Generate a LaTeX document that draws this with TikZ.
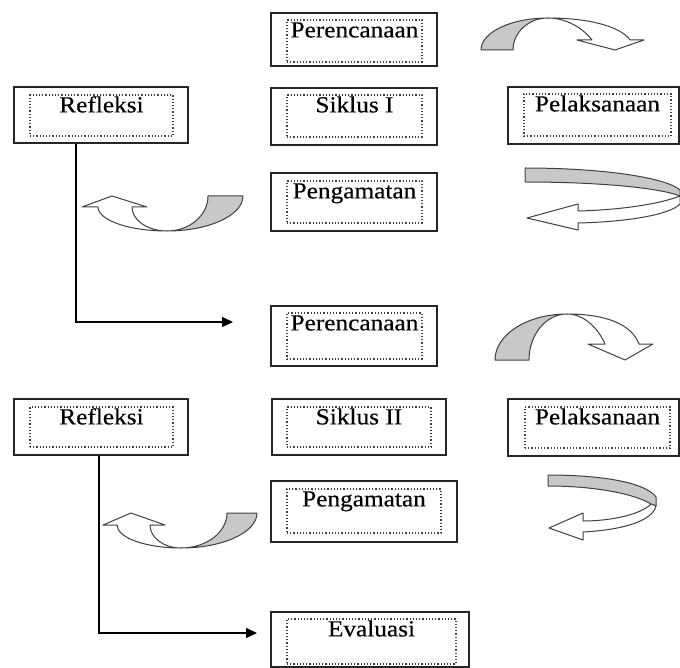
\documentclass[tikz,border=0pt]{standalone}
\usepackage{fontspec}
\setmainfont{Liberation Serif}[FakeStretch=1.1,FakeBold=0.4]
\usetikzlibrary{fit,arrows.meta}
\definecolor{bandgray}{RGB}{200,200,200}
\newcommand\cyclebox[4]{%
  \node[outerbox,fit={#2}] (#1) {};
  \node[innerbox,fit={#3}] (#1i) {};
  \node[lbl] (#1t) at ([yshift=-9pt]#1i.north) {#4};}
\begin{document}
\begin{tikzpicture}[x=0.5pt,y=-0.5pt,
  outerbox/.style={draw=black!85,line width=0.75pt,inner sep=0pt},
  innerbox/.style={draw=black!75,densely dotted,line width=0.6pt,inner sep=0pt},
  lbl/.style={anchor=base,font=\fontsize{11.5}{13}\selectfont,inner sep=0pt},
  conn/.style={draw=black,line width=0.7pt,-{Triangle[length=5.5pt,width=5pt]}},
  backband/.style={fill=bandgray,draw=black!75,line width=0.5pt,line join=round},
  frontband/.style={fill=white,draw=black!75,line width=0.5pt,line join=round}]
\useasboundingbox (0,0) rectangle (680,668);

% boxes
\cyclebox{per1}{(271,13) (437,66)}{(287,20) (422,62)}{Perencanaan}
\cyclebox{sik1}{(271,88) (437,145)}{(287,95) (422,137)}{Siklus I}
\cyclebox{pel1}{(508,87) (679,144)}{(524,94) (671,136)}{Pelaksanaan}
\cyclebox{ref1}{(14,87) (188,143)}{(30,95) (173,136)}{Refleksi}
\cyclebox{pen1}{(271,173) (437,231)}{(287,181) (422,223)}{Pengamatan}
\cyclebox{per2}{(271,306) (437,366)}{(287,313) (422,359)}{Perencanaan}
\cyclebox{ref2}{(14,399) (188,455)}{(30,407) (173,447)}{Refleksi}
\cyclebox{sik2}{(272,399) (446,455)}{(287,407) (431,447)}{Siklus II}
\cyclebox{pel2}{(508,399) (679,456)}{(525,407) (670,448)}{Pelaksanaan}
\cyclebox{pen2}{(271,481) (457,542)}{(287,489) (441,533)}{Pengamatan}
\cyclebox{eva}{(271,612) (469,667)}{(287,619) (456,664)}{Evaluasi}

% connectors
\coordinate (k1) at (76,322);
\coordinate (e1) at (233,322);
\draw[conn] (ref1.south -| k1) -- (k1) -- (e1);
\coordinate (k2) at (99,633);
\coordinate (e2) at (257,633);
\draw[conn] (ref2.south -| k2) -- (k2) -- (e2);

% curved arrow A (Perencanaan -> Pelaksanaan, cycle I)
\path[backband] (481,50) .. controls (481,32.3) and (511,18) .. (548,18)
  .. controls (528.7,18) and (513,32.3) .. (513,50) -- cycle;
\path[frontband] (548,18) .. controls (593,18) and (622,28) .. (630,40)
  -- (644,40) -- (615,50) -- (577,40) -- (592,40)
  .. controls (583,28) and (566,18) .. (548,18) -- cycle;

% curved arrow B (cycle II)
\path[backband] (495,360) .. controls (495,334.6) and (527.3,314) .. (567,314)
  .. controls (546,314) and (529,334.6) .. (529,360) -- cycle;
\path[frontband] (567,314) .. controls (607,314) and (632,325) .. (639,344)
  -- (653,344) -- (625,360) -- (588,344) -- (605,344)
  .. controls (598,328) and (584,314) .. (567,314) -- cycle;

% U-turn arrow C (Pelaksanaan -> Pengamatan, cycle I)
\path[backband] (525,168) .. controls (600,168) and (665,177) .. (680,190)
  -- (680,196) .. controls (660,188) and (600,182) .. (525,182) -- cycle;
\path[frontband] (680,196) .. controls (660,204) and (620,210) .. (578,211)
  -- (578,204) -- (527,218) -- (578,230) -- (578,223)
  .. controls (625,222) and (670,215) .. (680,204) -- cycle;

% U-turn arrow D (cycle II)
\path[backband] (548,475) .. controls (600,475) and (645,482) .. (656,497)
  -- (656,506) -- (651,504) .. controls (635,494) and (595,486) .. (548,486) -- cycle;
\path[frontband] (651,504) .. controls (640,515) and (610,521) .. (583,521)
  -- (583,513) -- (549,528) -- (583,540) -- (583,532)
  .. controls (620,530) and (652,522) .. (656,506) -- cycle;

% curved arrow E (Pengamatan -> Refleksi, cycle I)
\path[backband] (167,231) .. controls (209,231) and (243,215.3) .. (243,196)
  -- (208,196) .. controls (208,215.3) and (189.6,231) .. (167,231) -- cycle;
\path[frontband] (132,207) -- (147,207) -- (112,196) -- (82,207) -- (98,207)
  .. controls (98,220.2) and (129,231) .. (167,231)
  .. controls (147.7,231) and (132,220.2) .. (132,207) -- cycle;

% curved arrow F (cycle II)
\path[backband] (181,548) .. controls (223,548) and (257,532.3) .. (257,513)
  -- (227,513) .. controls (227,532.3) and (206.4,548) .. (181,548) -- cycle;
\path[frontband] (150,525) -- (165,525) -- (131,513) -- (103,525) -- (117,525)
  .. controls (117,537.7) and (145.7,548) .. (181,548)
  .. controls (163.9,548) and (150,537.7) .. (150,525) -- cycle;
\end{tikzpicture}
\end{document}
